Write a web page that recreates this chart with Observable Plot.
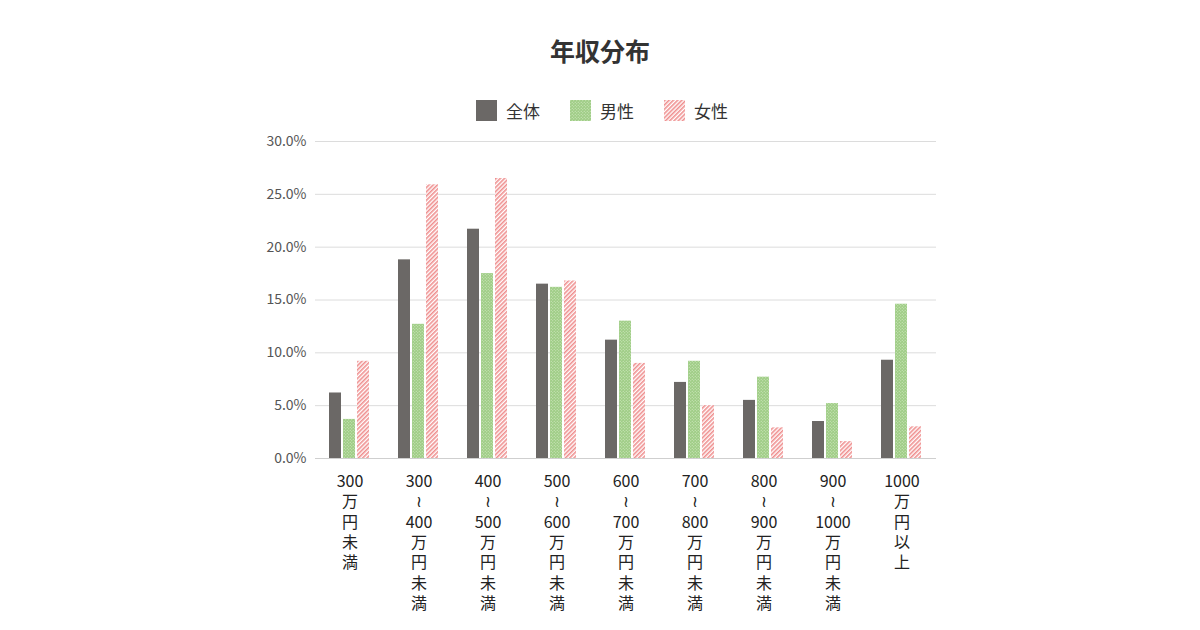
<!DOCTYPE html>
<html>
<head>
<meta charset="utf-8">
<script src="https://cdn.jsdelivr.net/npm/d3@7"></script>
<script src="https://cdn.jsdelivr.net/npm/@observablehq/plot@0.6"></script>
<style>
  html, body { margin: 0; padding: 0; background: #fff; }
  #wrap { position: relative; width: 1200px; height: 630px; font-family: "Noto Sans CJK JP", "Noto Sans", sans-serif; }
  #title { position: absolute; left: 0; width: 1200px; top: 30px; text-align: center; font-size: 25px; font-weight: bold; color: #333; line-height: 40px; }
  #legend { position: absolute; left: 0; width: 1200px; top: 97px; height: 26px; display: flex; justify-content: center; align-items: center; font-size: 17px; color: #333; padding-left: 2px; }
  .item { display: flex; align-items: center; margin: 0 15px; }
  .item svg { margin-right: 9px; }
  #chart { position: absolute; left: 0; top: 125px; }
</style>
</head>
<body>
<div id="wrap">
  <div id="title">年収分布</div>
  <div id="legend"></div>
  <div id="chart"></div>
</div>
<script>
const categories = ["300万円未満", "300～400万円未満", "400～500万円未満", "500～600万円未満", "600～700万円未満", "700～800万円未満", "800～900万円未満", "900～1000万円未満", "1000万円以上"];
const series = ["全体", "男性", "女性"];
const totalValues = [6.2, 18.8, 21.7, 16.5, 11.2, 7.2, 5.5, 3.5, 9.3];
const maleValues = [3.7, 12.7, 17.5, 16.2, 13.0, 9.2, 7.7, 5.2, 14.6];
const femaleValues = [9.2, 25.9, 26.5, 16.8, 9.0, 5.0, 2.9, 1.6, 3.0];
const yTicks = [0, 5, 10, 15, 20, 25, 30];
const seriesFills = ["#6b6866", "url(#patMale)", "url(#patFemale)"];

const valuesBySeries = [totalValues, maleValues, femaleValues];
const data = [];
categories.forEach((c, i) => {
  series.forEach((s, j) => data.push({cat: c, series: s, value: valuesBySeries[j][i]}));
});

const verticalLabel = (c) => (c.match(/\d+|./g) || []).map(t => t === "～" ? "≀" : t).join("\n");

const svg = Plot.plot({
  width: 1200,
  height: 505,
  marginTop: 16,
  marginBottom: 172,
  marginLeft: 312,
  marginRight: 262,
  style: {fontFamily: "'Noto Sans CJK JP', 'Noto Sans', sans-serif", background: "#fff"},
  fx: {domain: categories, padding: 0, label: null},
  x: {domain: series, paddingInner: 0.12, paddingOuter: 0.9, axis: null},
  y: {domain: [0, 30], label: null},
  color: {domain: series, range: seriesFills},
  marks: [
    Plot.gridY(yTicks, {stroke: "#dcdcdc", strokeOpacity: 1}),
    Plot.axisY(yTicks, {tickSize: 0, tickPadding: 9, tickFormat: d => d.toFixed(1) + "%", fontSize: 14, fill: "#555", label: null}),
    Plot.axisFx({anchor: "bottom", tickSize: 0, tickPadding: 14, tickFormat: verticalLabel, fontSize: 16, lineHeight: 1.27, fill: "#222", label: null}),
    Plot.barY(data, {fx: "cat", x: "series", y: "value", fill: "series"}),
    Plot.ruleY([0], {stroke: "#cfcfcf"})
  ]
});

const defs = d3.select(svg).insert("defs", ":first-child");
const pm = defs.append("pattern").attr("id", "patMale").attr("patternUnits", "userSpaceOnUse").attr("width", 3).attr("height", 3);
pm.append("rect").attr("width", 3).attr("height", 3).attr("fill", "#9fcd86");
pm.append("circle").attr("cx", 0.75).attr("cy", 0.75).attr("r", 0.55).attr("fill", "#d8ecc9");
pm.append("circle").attr("cx", 2.25).attr("cy", 2.25).attr("r", 0.55).attr("fill", "#d8ecc9");
const pf = defs.append("pattern").attr("id", "patFemale").attr("patternUnits", "userSpaceOnUse").attr("width", 3).attr("height", 3).attr("patternTransform", "rotate(45)");
pf.append("rect").attr("width", 3).attr("height", 3).attr("fill", "#fff");
pf.append("rect").attr("width", 1.6).attr("height", 3).attr("fill", "#ef8f8f");

document.getElementById("chart").appendChild(svg);

const legend = d3.select("#legend");
series.forEach((s, j) => {
  const it = legend.append("div").attr("class", "item");
  const sv = it.append("svg").attr("width", 21).attr("height", 21);
  sv.append("rect").attr("width", 21).attr("height", 21).attr("fill", seriesFills[j]);
  it.append("span").text(s);
});
</script>
</body>
</html>
